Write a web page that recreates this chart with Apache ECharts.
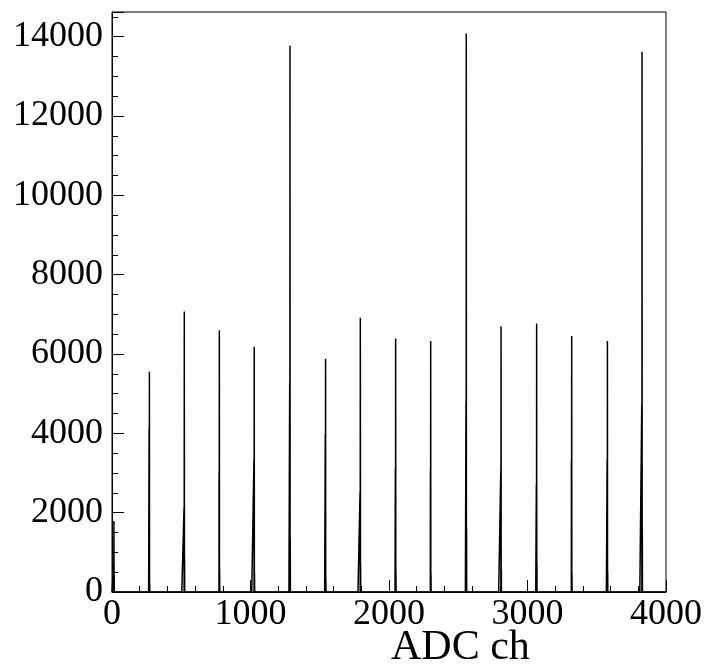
<!DOCTYPE html>
<html>
<head>
<meta charset="utf-8">
<title>ADC spectrum</title>
<script src="https://cdn.jsdelivr.net/npm/echarts@6/dist/echarts.min.js"></script>
<style>
  html, body { margin: 0; padding: 0; background: #fff; }
  #chart { width: 708px; height: 672px; }
</style>
</head>
<body>
<div id="chart"></div>
<script>
// Peak channels of the ADC spectrum and the counts in the bins around each peak
const peakChannels   = [14, 270, 522, 775, 1027, 1285, 1542, 1793, 2048, 2301, 2558, 2809, 3066, 3319, 3577, 3827];
const peakCounts     = [1790, 5550, 7070, 6600, 6180, 13770, 5880, 6910, 6390, 6330, 14080, 6700, 6770, 6450, 6330, 13620];
const shoulderCounts = [720, 4130, 2110, 3020, 3360, 5270, 3980, 2520, 3100, 3080, 4780, 3050, 2730, 3300, 3330, 4690];
const tailCounts     = [420, 235, 865, 555, 445, 1330, 320, 700, 510, 460, 1590, 555, 730, 470, 500, 1580];

const nBins = 4000;
const xTickLabels = ['0', '1000', '2000', '3000', '4000'];
const yTickLabels = ['0', '2000', '4000', '6000', '8000', '10000', '12000', '14000'];

// Fill the 1-channel histogram
const counts = new Array(nBins).fill(0);
peakChannels.forEach((ch, i) => {
  counts[ch] = peakCounts[i];
  if (ch - 2 >= 0) counts[ch - 2] = shoulderCounts[i];
  if (ch + 2 < nBins) counts[ch + 2] = tailCounts[i];
});
const histData = counts.map((c, i) => [i + 0.5, c]);

const font = 'Liberation Serif, Times New Roman, serif';
const chart = echarts.init(document.getElementById('chart'), null, { renderer: 'canvas' });

chart.setOption({
  animation: false,
  backgroundColor: '#fff',
  grid: {
    left: 112, right: 42, top: 12, bottom: 80,
    show: true, borderColor: '#000', borderWidth: 1, backgroundColor: 'transparent'
  },
  xAxis: {
    type: 'value',
    min: 0, max: 4000, interval: 1000,
    axisLine: { show: true, lineStyle: { color: '#000', width: 1 } },
    axisTick: { show: true, inside: true, length: 12, lineStyle: { color: '#000' } },
    minorTick: { show: true, splitNumber: 5, length: 6, lineStyle: { color: '#000' } },
    splitLine: { show: false },
    axisLabel: {
      fontFamily: font, fontSize: 36, color: '#000', margin: 5,
      formatter: v => (v % 1000 === 0 ? xTickLabels[v / 1000] : '')
    }
  },
  yAxis: {
    type: 'value',
    min: 0, max: 14620, interval: 2000,
    axisLine: { show: true, lineStyle: { color: '#000', width: 1 } },
    axisTick: { show: true, inside: true, length: 12, lineStyle: { color: '#000' } },
    minorTick: { show: true, splitNumber: 4, length: 6, lineStyle: { color: '#000' } },
    splitLine: { show: false },
    axisLabel: {
      fontFamily: font, fontSize: 36, color: '#000', margin: 9, showMaxLabel: false,
      formatter: v => (v % 2000 === 0 && v / 2000 < yTickLabels.length ? yTickLabels[v / 2000] : '')
    }
  },
  graphic: [{
    type: 'text', left: 391, top: 627,
    style: { text: 'ADC ch', fontFamily: font, fontSize: 42, fill: '#000' }
  }],
  series: [{
    type: 'line',
    step: 'middle',
    data: histData,
    showSymbol: false,
    symbol: 'none',
    lineStyle: { color: '#000', width: 1.5 },
    silent: true
  }]
});
</script>
</body>
</html>
